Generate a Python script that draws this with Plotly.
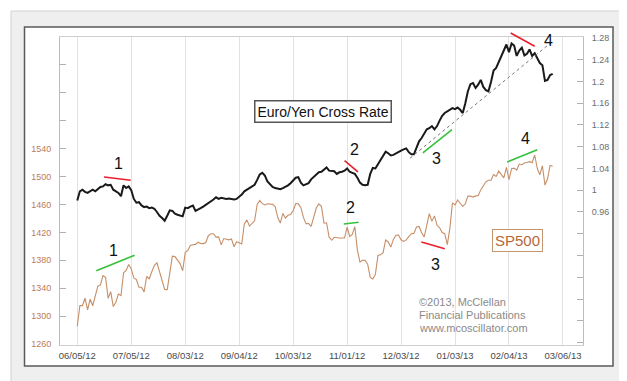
import plotly.graph_objects as go

# ---------------- data ----------------
tick_labels = ["06/05/12", "07/05/12", "08/03/12", "09/04/12", "10/03/12",
               "11/01/12", "12/03/12", "01/03/13", "02/04/13", "03/06/13"]
tick_step = 21  # trading days between labelled dates

sp500 = [
    1285.50, 1315.13, 1314.99, 1325.66, 1308.93, 1324.18, 1314.88, 1329.10, 1342.84, 1344.78,
    1357.98, 1355.69, 1325.51, 1335.02, 1313.72, 1319.99, 1331.85, 1329.04, 1362.16, 1365.51,
    1374.02, 1367.58, 1354.68, 1352.46, 1341.47, 1341.45, 1334.76, 1356.78, 1353.64, 1363.67,
    1372.78, 1376.51, 1362.66, 1350.52, 1338.31, 1337.89, 1360.02, 1385.97, 1385.30, 1379.32,
    1375.32, 1365.00, 1390.99, 1394.23, 1401.35, 1402.22, 1402.80, 1405.87, 1404.11, 1403.93,
    1405.53, 1415.51, 1418.16, 1418.13, 1413.17, 1413.49, 1402.08, 1411.13, 1410.44, 1409.30,
    1410.49, 1399.48, 1406.58, 1404.94, 1403.44, 1432.12, 1437.92, 1429.08, 1433.56, 1436.56,
    1459.99, 1465.77, 1461.19, 1459.32, 1461.05, 1460.26, 1460.15, 1456.89, 1441.59, 1433.32,
    1447.15, 1440.67, 1444.49, 1445.75, 1450.99, 1461.40, 1460.93, 1455.88, 1441.48, 1432.56,
    1432.84, 1428.59, 1440.13, 1454.92, 1460.91, 1457.34, 1433.19, 1433.82, 1413.11, 1408.75,
    1412.97, 1411.94, 1411.94, 1411.94, 1412.16, 1427.59, 1414.20, 1417.26, 1428.39, 1394.53,
    1377.51, 1379.85, 1380.03, 1374.53, 1355.49, 1353.33, 1359.88, 1386.89, 1387.81, 1391.03,
    1409.15, 1406.29, 1398.94, 1409.93, 1415.95, 1416.18, 1409.46, 1407.05, 1409.28, 1413.94,
    1418.07, 1418.55, 1427.84, 1428.48, 1419.45, 1413.58, 1430.36, 1446.79, 1435.81, 1443.69,
    1430.15, 1426.66, 1419.83, 1418.10, 1402.43, 1426.19, 1462.42, 1459.37, 1466.47, 1461.89,
    1457.15, 1461.02, 1472.12, 1472.05, 1470.68, 1472.34, 1472.63, 1480.94, 1485.98, 1492.56,
    1494.81, 1494.82, 1502.96, 1500.18, 1507.84, 1501.96, 1498.11, 1513.17, 1495.71, 1511.29,
    1512.12, 1509.39, 1517.93, 1517.01, 1519.43, 1520.33, 1521.38, 1519.79, 1530.94, 1511.95,
    1502.42, 1515.60, 1487.85, 1496.94, 1515.99, 1514.68,
]

euro_yen = [
    0.981, 0.998, 1.001, 0.997, 0.995, 0.998, 1.001, 0.998, 1.003, 1.006,
    1.007, 1.011, 1.009, 1.010, 1.001, 0.998, 0.995, 0.989, 1.009, 1.004,
    1.007, 1.000, 0.984, 0.977, 0.978, 0.972, 0.969, 0.970, 0.967, 0.968,
    0.966, 0.960, 0.953, 0.949, 0.944, 0.953, 0.963, 0.962, 0.957, 0.955,
    0.954, 0.952, 0.968, 0.967, 0.970, 0.972, 0.962, 0.964, 0.967, 0.970,
    0.973, 0.976, 0.980, 0.983, 0.987, 0.984, 0.986, 0.985, 0.984, 0.985,
    0.984, 0.983, 0.984, 0.988, 0.992, 0.998, 1.001, 1.003, 1.006, 1.010,
    1.019, 1.029, 1.032, 1.027, 1.016, 1.011, 1.006, 1.004, 1.003, 1.002,
    1.004, 1.006, 1.009, 1.013, 1.019, 1.023, 1.024, 1.014, 1.009, 1.011,
    1.013, 1.020, 1.025, 1.030, 1.033, 1.034, 1.038, 1.042, 1.036, 1.035,
    1.035, 1.030, 1.033, 1.034, 1.036, 1.040, 1.034, 1.032, 1.030, 1.023,
    1.014, 1.010, 1.009, 1.010, 1.030, 1.041, 1.040, 1.048, 1.055, 1.062,
    1.071, 1.068, 1.064, 1.065, 1.068, 1.071, 1.073, 1.075, 1.077, 1.070,
    1.066, 1.066, 1.080, 1.090, 1.096, 1.105, 1.112, 1.114, 1.118, 1.112,
    1.118, 1.128, 1.137, 1.142, 1.145, 1.148, 1.151, 1.149, 1.152, 1.148,
    1.142, 1.160, 1.182, 1.195, 1.197, 1.188, 1.194, 1.203, 1.190, 1.184,
    1.182, 1.199, 1.220, 1.225, 1.236, 1.245, 1.256, 1.268, 1.254, 1.270,
    1.266, 1.247, 1.257, 1.262, 1.248, 1.251, 1.259, 1.247, 1.252, 1.243,
    1.234, 1.230, 1.201, 1.203, 1.212, 1.214,
]

left_ticks = [1260 + 40 * i for i in range(12)]
left_labelled = [1260, 1300, 1340, 1380, 1420, 1460, 1500, 1540]
right_ticks = [round(0.72 + 0.04 * i, 2) for i in range(15)]
right_labels = {0.96: "0.96", 1.0: "1", 1.04: "1.04", 1.08: "1.08", 1.12: "1.12",
                1.16: "1.16", 1.2: "1.2", 1.24: "1.24", 1.28: "1.28"}

# ---------------- figure ----------------
FONT = "Arial, Liberation Sans, sans-serif"
W, H = 627, 381
ML, MR, MT, MB = 52, 52, 29, 44
PW, PH = W - ML - MR, H - MT - MB

def px(xp):
    return (xp - ML) / PW

def py(yp):
    return (H - MB - yp) / PH

x = list(range(len(sp500)))

fig = go.Figure()
fig.add_trace(go.Scatter(x=x, y=sp500, mode="lines", yaxis="y",
                         line=dict(color="#c68f68", width=1.1), hoverinfo="skip"))
fig.add_trace(go.Scatter(x=list(range(len(euro_yen))), y=euro_yen, mode="lines", yaxis="y2",
                         line=dict(color="#1a1a1a", width=2), hoverinfo="skip"))

shapes = []
# outer frame
shapes.append(dict(type="rect", xref="paper", yref="paper", layer="below",
                   x0=px(3), x1=px(621), y0=py(377), y1=py(3),
                   fillcolor="#efefef", line=dict(color="#d2d2d2", width=1)))
shapes.append(dict(type="rect", xref="paper", yref="paper", layer="below",
                   x0=px(16.5), x1=px(605), y0=py(358), y1=py(19),
                   fillcolor="#ffffff", line=dict(color="#5a5a5a", width=1.5)))

# trend line (dotted)
shapes.append(dict(type="line", xref="x", yref="y2", x0=129.5, y0=1.059, x1=185, y1=1.274,
                   line=dict(color="#777777", width=1, dash="dot")))

def seg(x0, y0, x1, y1, color, yref):
    shapes.append(dict(type="line", xref="x", yref=yref, x0=x0, y0=y0, x1=x1, y1=y1,
                       line=dict(color=color, width=1.6)))

RED, GREEN = "#e8202a", "#35c23a"
seg(10.4, 1.0244, 20.8, 1.0183, RED, "y2")
seg(7.4, 1365.1, 22.3, 1387.2, GREEN, "y")
seg(104.0, 1.0543, 109.2, 1.0336, RED, "y2")
seg(103.7, 1432.0, 109.5, 1434.5, GREEN, "y")
seg(133.9, 1406.2, 143.0, 1396.6, RED, "y")
seg(134.5, 1.0685, 145.8, 1.1114, GREEN, "y2")
seg(167.3, 1520.9, 179.0, 1538.6, GREEN, "y")
# red 4 reaches above the plot top -> paper coordinates
shapes.append(dict(type="line", xref="paper", yref="paper",
                   x0=px(502.7), y0=py(25), x1=px(526.7), y1=py(38.3),
                   line=dict(color=RED, width=1.6)))

annotations = []

def num(text, xv, yv, yref):
    annotations.append(dict(text=text, x=xv, y=yv, xref="x", yref=yref, showarrow=False,
                            xanchor="center", yanchor="middle",
                            font=dict(family=FONT, size=16, color="#111111")))

num("1", 16.1, 1.0483, "y2")
num("1", 13.9, 1393.8, "y")
num("2", 107.7, 1.0746, "y2")
num("2", 106.4, 1456.0, "y")
num("3", 139.3, 1373.7, "y")
num("3", 139.7, 1.0580, "y2")
num("4", 183.2, 1.2750, "y2")
num("4", 174.3, 1555.3, "y")

annotations.append(dict(text="Euro/Yen Cross Rate", x=px(315), y=py(103), xref="paper", yref="paper",
                        showarrow=False, xanchor="center", yanchor="middle",
                        font=dict(family=FONT, size=14, color="#111111"),
                        bgcolor="#ffffff", bordercolor="#555555", borderwidth=1.5, borderpad=2))
annotations.append(dict(text="SP500", x=px(509), y=py(232.7), xref="paper", yref="paper",
                        showarrow=False, xanchor="center", yanchor="middle",
                        font=dict(family=FONT, size=15, color="#b5683a"),
                        bgcolor="#ffffff", bordercolor="#c4966f", borderwidth=1, borderpad=2))

for txt, yy in [("©2013, McClellan", 294.3), ("Financial Publications", 307.0),
                ("www.mcoscillator.com", 319.5)]:
    annotations.append(dict(text=txt, x=px(409), y=py(yy), xref="paper", yref="paper",
                            showarrow=False, xanchor="left", yanchor="middle",
                            font=dict(family=FONT, size=11, color="#8a8a8a")))

fig.update_layout(
    width=W, height=H,
    margin=dict(l=ML, r=MR, t=MT, b=MB),
    paper_bgcolor="#ffffff", plot_bgcolor="rgba(0,0,0,0)",
    showlegend=False,
    shapes=shapes, annotations=annotations,
    xaxis=dict(range=[-6.73, 196.8], tickvals=[i * tick_step for i in range(len(tick_labels))],
               ticktext=tick_labels, showgrid=True, gridcolor="#e2e2e2", gridwidth=1,
               zeroline=False, showline=True, mirror=True, linecolor="#cfcfcf", linewidth=1,
               ticks="", ticklabelstandoff=2,
               tickfont=dict(family=FONT, size=9.5, color="#4a4a4a")),
    yaxis=dict(range=[1258.6, 1700.1], tickvals=left_ticks,
               ticktext=[str(v) if v in left_labelled else "" for v in left_ticks],
               showgrid=False, zeroline=False, showline=True, linecolor="#bdbdbd", linewidth=1,
               ticks="inside", ticklen=6, tickcolor="#b0b0b0", ticklabelstandoff=6,
               tickfont=dict(family=FONT, size=9, color="#bd7d57")),
    yaxis2=dict(range=[0.7154, 1.2818], overlaying="y", side="right", tickvals=right_ticks,
                ticktext=[right_labels.get(round(v, 2), "") for v in right_ticks],
                showgrid=False, zeroline=False, showline=True, linecolor="#bdbdbd", linewidth=1,
                ticks="inside", ticklen=6, tickcolor="#b0b0b0", ticklabelstandoff=6,
                tickfont=dict(family=FONT, size=9, color="#6e6e6e")),
)

fig.write_html("out.html")
